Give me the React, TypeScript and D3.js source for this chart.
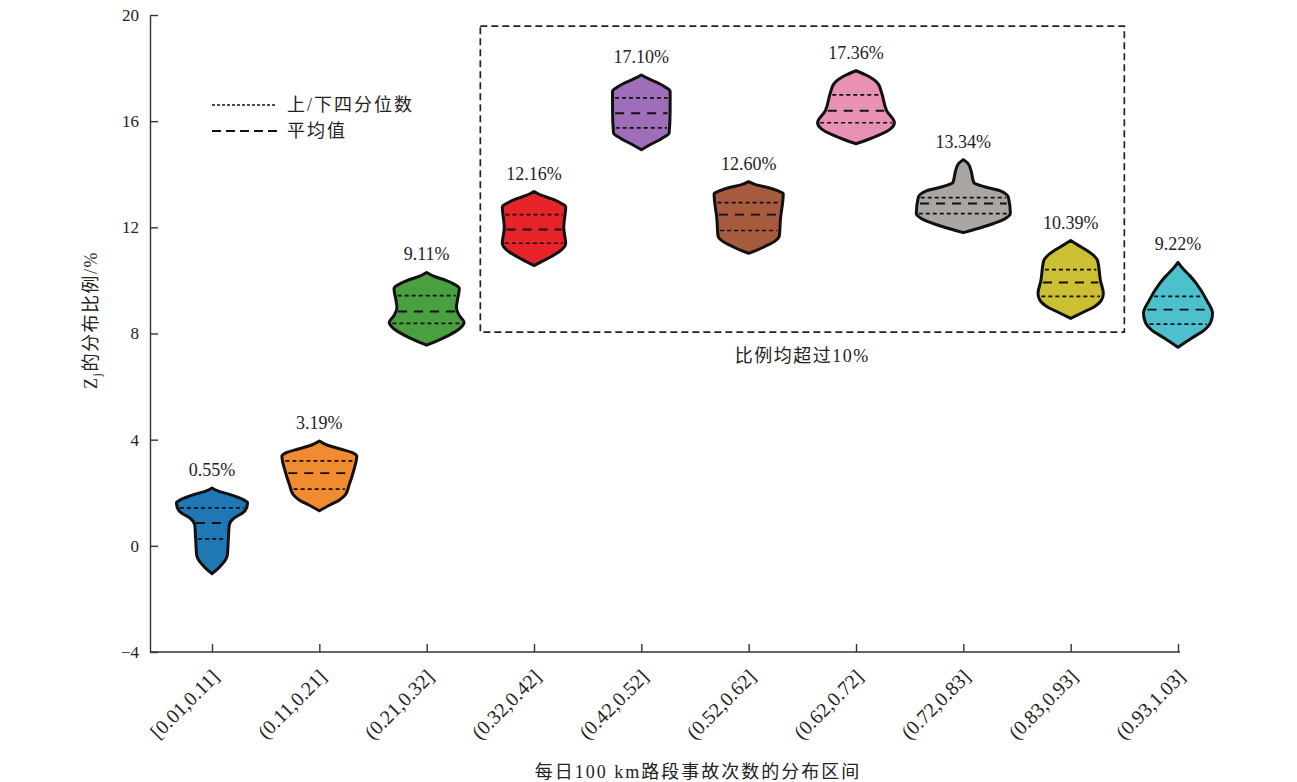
import React, { useEffect, useRef } from "react";
import * as d3 from "d3";

// interval categories on the x axis
const categories = [
  "[0.01,0.11]",
  "(0.11,0.21]",
  "(0.21,0.32]",
  "(0.32,0.42]",
  "(0.42,0.52]",
  "(0.52,0.62]",
  "(0.62,0.72]",
  "(0.72,0.83]",
  "(0.83,0.93]",
  "(0.93,1.03]",
];

const shareLabels = ["0.55%", "3.19%", "9.11%", "12.16%", "17.10%", "12.60%", "17.36%", "13.34%", "10.39%", "9.22%"];

// violin outlines: [value, relative density]
const violinBlue = [[2.18, 0], [2.07, 0.12], [1.92, 0.4], [1.73, 0.66], [1.62, 0.74], [1.43, 0.72], [1.24, 0.64], [1.05, 0.46], [0.79, 0.36], [0.23, 0.34], [-0.34, 0.32], [-0.53, 0.28], [-0.71, 0.2], [-0.9, 0.1], [-1.05, 0]];
const violinOrange = [[3.95, 0], [3.8, 0.16], [3.65, 0.44], [3.5, 0.7], [3.38, 0.78], [2.86, 0.72], [2.29, 0.62], [1.92, 0.54], [1.73, 0.42], [1.54, 0.22], [1.32, 0]];
const violinGreen = [[10.3, 0], [10.15, 0.16], [10.0, 0.4], [9.85, 0.58], [9.7, 0.68], [9.25, 0.64], [8.98, 0.62], [8.68, 0.68], [8.42, 0.78], [8.2, 0.7], [7.93, 0.46], [7.74, 0.24], [7.56, 0]];
const violinRed = [[13.35, 0], [13.2, 0.16], [13.05, 0.4], [12.89, 0.58], [12.78, 0.66], [11.99, 0.62], [11.39, 0.66], [11.13, 0.56], [10.9, 0.36], [10.71, 0.16], [10.56, 0]];
const violinPurple = [[17.74, 0], [17.59, 0.16], [17.41, 0.38], [17.26, 0.52], [17.14, 0.6], [16.4, 0.6], [15.56, 0.58], [15.34, 0.42], [15.11, 0.18], [14.92, 0]];
const violinBrown = [[13.72, 0], [13.6, 0.16], [13.5, 0.4], [13.38, 0.6], [13.27, 0.72], [12.26, 0.66], [11.69, 0.64], [11.47, 0.54], [11.28, 0.34], [11.13, 0.16], [11.02, 0]];
const violinPink = [[17.9, 0], [17.71, 0.24], [17.41, 0.46], [17.03, 0.54], [16.39, 0.64], [15.94, 0.8], [15.71, 0.72], [15.49, 0.5], [15.3, 0.24], [15.15, 0]];
const violinGray = [[14.55, 0], [14.4, 0.1], [14.14, 0.16], [13.68, 0.22], [13.53, 0.44], [13.38, 0.76], [13.12, 0.94], [12.52, 0.98], [12.26, 0.8], [12.03, 0.44], [11.8, 0]];
const violinYellow = [[11.5, 0], [11.32, 0.16], [11.13, 0.34], [10.94, 0.48], [10.75, 0.56], [10.0, 0.62], [9.51, 0.68], [9.25, 0.64], [9.02, 0.5], [8.8, 0.26], [8.57, 0]];
const violinCyan = [[10.68, 0], [10.45, 0.1], [10.19, 0.24], [9.89, 0.38], [9.25, 0.6], [8.76, 0.72], [8.42, 0.68], [8.12, 0.54], [7.82, 0.28], [7.48, 0]];

const violins = [violinBlue, violinOrange, violinGreen, violinRed, violinPurple, violinBrown, violinPink, violinGray, violinYellow, violinCyan];

// upper quartile, mean, lower quartile
const upperQuartiles = [1.43, 3.2, 9.43, 12.48, 16.88, 12.93, 16.99, 13.12, 10.41, 9.4];
const means = [0.86, 2.74, 8.83, 11.92, 16.3, 12.48, 16.39, 12.9, 9.92, 8.9];
const lowerQuartiles = [0.26, 2.14, 8.38, 11.4, 15.75, 11.88, 15.94, 12.52, 9.4, 8.35];

const yTicks = [-4, 0, 4, 8, 12, 16, 20];

const colors = ["#1f77b4", "#f28a30", "#4aa03f", "#e8242b", "#9e6fb8", "#a65a3e", "#e991b5", "#a9a6a4", "#cbbf33", "#4cc0cc"];

const serif = "'Liberation Serif', 'Noto Sans CJK SC', serif";
const cjk = "'Liberation Serif', 'Noto Sans CJK SC', sans-serif";

const W = 1297;
const H = 782;

const App = () => {
  const xAxisRef = useRef(null);
  const yAxisRef = useRef(null);

  const y = d3.scaleLinear().domain([-4, 20]).range([652, 15]);
  const x = d3.scalePoint().domain(categories).range([212, 1178]);
  const w = d3.scaleLinear().domain([0, 1]).range([0, 48]);

  useEffect(() => {
    const ya = d3.select(yAxisRef.current);
    ya.selectAll("*").remove();
    ya.call(
      d3.axisLeft(y).tickValues(yTicks).tickSizeInner(-8).tickSizeOuter(0).tickPadding(11)
    );
    ya.attr("font-family", serif).attr("font-size", 17);
    ya.selectAll("path, line").attr("stroke", "#333").attr("stroke-width", 1.4);
    ya.selectAll("text").attr("fill", "#222");

    const xa = d3.select(xAxisRef.current);
    xa.selectAll("*").remove();
    xa.call(d3.axisBottom(x).tickSizeInner(-8).tickSizeOuter(0));
    xa.select(".domain").remove();
    xa.attr("font-family", serif).attr("font-size", 20);
    xa.selectAll("line").attr("stroke", "#333").attr("stroke-width", 1.4);
    xa.selectAll("text")
      .attr("y", null)
      .attr("dy", null)
      .attr("fill", "#222")
      .attr("text-anchor", "end")
      .attr("transform", "translate(8,26) rotate(-45)");
  }, []);

  const area = d3
    .area<number[]>()
    .y((d) => y(d[0]))
    .x0((d) => -w(d[1]))
    .x1((d) => w(d[1]))
    .curve(d3.curveMonotoneY);

  const halfAt = (profile: number[][], v: number) => {
    const f = d3
      .scaleLinear()
      .domain(profile.map((p) => p[0]))
      .range(profile.map((p) => w(p[1])))
      .clamp(true);
    return Math.max(0, f(v) - 2.5);
  };

  const boxLeft = ((x(categories[2]) as number) + (x(categories[3]) as number)) / 2;
  const boxRight = ((x(categories[8]) as number) + (x(categories[9]) as number)) / 2;

  return (
    <svg
      width={W}
      height={H}
      style={{ position: "absolute", left: 0, top: 0, background: "#fff" }}
    >
      <g ref={yAxisRef} transform="translate(150,0)" />
      <g ref={xAxisRef} transform="translate(0,652)" />
      <line x1={150} x2={1180} y1={652} y2={652} stroke="#333" strokeWidth={1.4} />

      {/* dashed highlight box */}
      <rect
        x={boxLeft}
        y={y(19.58)}
        width={boxRight - boxLeft}
        height={y(8.05) - y(19.58)}
        fill="none"
        stroke="#222"
        strokeWidth={1.7}
        strokeDasharray="7,4"
      />
      <text x={(boxLeft + boxRight) / 2} y={y(8.05) + 30} textAnchor="middle" fontFamily={cjk} fontSize={18} letterSpacing={1.5} fill="#222">
        比例均超过10%
      </text>

      {violins.map((prof, i) => {
        const cx = x(categories[i]) as number;
        const top = prof[0][0];
        const lines = [
          { v: upperQuartiles[i], dash: "4,3", sw: 1.7 },
          { v: means[i], dash: "9,7", sw: 1.9 },
          { v: lowerQuartiles[i], dash: "4,3", sw: 1.7 },
        ];
        return (
          <g key={i} transform={`translate(${cx},0)`}>
            <path d={area(prof) || ""} fill={colors[i]} stroke="#111" strokeWidth={3} strokeLinejoin="round" />
            {lines.map((l, j) => {
              const hw = halfAt(prof, l.v);
              return (
                <line
                  key={j}
                  x1={-hw}
                  x2={hw}
                  y1={y(l.v)}
                  y2={y(l.v)}
                  stroke="#111"
                  strokeWidth={l.sw}
                  strokeDasharray={l.dash}
                />
              );
            })}
            <text y={y(top) - 12} textAnchor="middle" fontFamily={serif} fontSize={18} fill="#222">
              {shareLabels[i]}
            </text>
          </g>
        );
      })}

      {/* legend */}
      <g fontFamily={cjk} fontSize={18} letterSpacing={2} fill="#222">
        <line x1={212} x2={277} y1={105} y2={105} stroke="#111" strokeWidth={1.6} strokeDasharray="3,2" />
        <text x={287} y={105} dy="0.35em">上/下四分位数</text>
        <line x1={212} x2={277} y1={131} y2={131} stroke="#111" strokeWidth={2} strokeDasharray="9,5" />
        <text x={287} y={131} dy="0.35em">平均值</text>
      </g>

      {/* axis titles */}
      <text x={698} y={778} textAnchor="middle" fontFamily={cjk} fontSize={18} letterSpacing={2} fill="#222">
        每日100 km路段事故次数的分布区间
      </text>
      <text transform="translate(97,320) rotate(-90)" textAnchor="middle" fontFamily={cjk} fontSize={18} letterSpacing={1.5} fill="#222">
        Z<tspan fontSize={12} dy={4}>j</tspan>
        <tspan dy={-4}>的分布比例/%</tspan>
      </text>
    </svg>
  );
};

export default App;
